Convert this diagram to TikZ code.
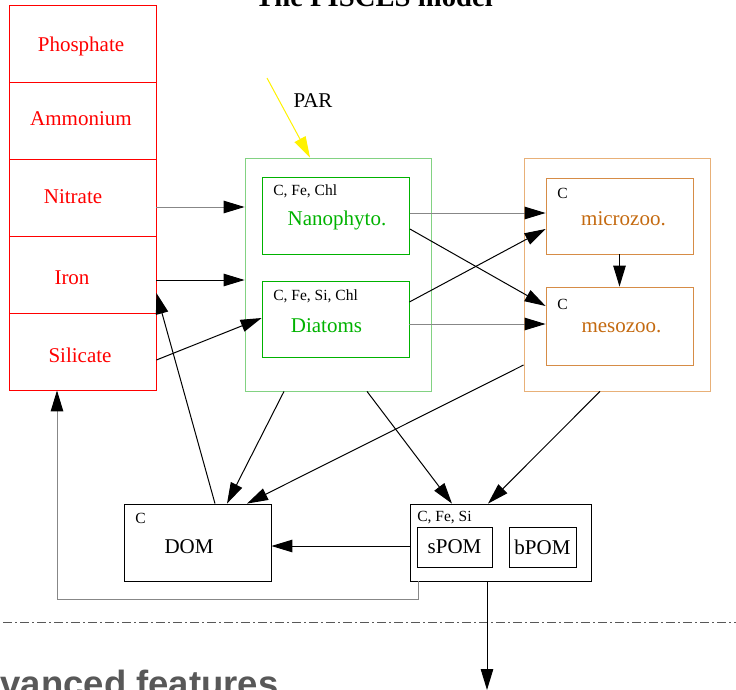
\documentclass[tikz,border=0pt]{standalone}
\usepackage{fontspec}
\setmainfont{Liberation Serif}
\newfontfamily\slidefont{Liberation Sans}
\usetikzlibrary{arrows.meta,positioning}
\definecolor{nutred}{RGB}{255,0,0}
\definecolor{phytogreen}{RGB}{0,178,0}
\definecolor{phytolight}{RGB}{130,210,130}
\definecolor{zooorange}{RGB}{196,106,16}
\definecolor{zoomid}{RGB}{214,140,70}
\definecolor{zoolight}{RGB}{232,176,120}
\definecolor{linegray}{RGB}{135,135,135}
\definecolor{slidegray}{RGB}{88,88,88}
\tikzset{>={Triangle[length=21pt,width=12.5pt]}}

\begin{document}
\begin{tikzpicture}[x=1pt,y=-1pt,line width=0.8pt,
    box/.style={draw,rectangle,inner sep=0pt},
    cell/.style={box,draw=nutred,minimum width=147pt,minimum height=77pt},
    phytobox/.style={box,draw=phytogreen,minimum width=147pt,minimum height=77pt},
    zoobox/.style={box,draw=zoomid,minimum width=147pt,minimum height=76pt},
    maintxt/.style={inner sep=0pt,anchor=base,font=\fontsize{21}{24}\selectfont},
    nuttxt/.style={maintxt,text=nutred},
    phytotxt/.style={maintxt,text=phytogreen},
    zootxt/.style={maintxt,text=zooorange},
    smalltxt/.style={inner sep=0pt,anchor=west,font=\fontsize{15.5}{18}\selectfont},
    arrow/.style={->,line width=1pt},
    grayline/.style={draw=linegray,line width=1pt,-{Triangle[length=21pt,width=12.5pt,color=black]}}]
    \useasboundingbox (0,0) rectangle (736,690);
    \clip (0,0) rectangle (736,690);

    \node[anchor=base,inner sep=0pt,font=\bfseries\fontsize{28.7}{32}\selectfont] (title) at (374,7) {The PISCES model};

    % nutrients
    \foreach \n/\t/\tx/\ty [count=\i] in {phosphate/Phosphate/81/52,ammonium/Ammonium/81/126,
        nitrate/Nitrate/73/203,iron/Iron/72/284,silicate/Silicate/80/362}
        {
        \node[cell] (\n) at (82.5,{43.5+77*(\i-1)}) {};
        \node[nuttxt] at (\tx,\ty) {\t};
        }

    % phytoplankton
    \node[box,draw=phytolight,minimum width=186pt,minimum height=233pt] (phyto) at (338,274.5) {};
    \node[phytobox] (nano) at (336,216) {};
    \node[phytobox,minimum height=76pt] (diatoms) at (335.5,319) {};
    \node[smalltxt] at (273,191) {C, Fe, Chl};
    \node[phytotxt] at (337,225) {Nanophyto.};
    \node[smalltxt] at (273,296) {C, Fe, Si, Chl};
    \node[phytotxt] at (326.5,332) {Diatoms};

    \coordinate (sun) at (267,78);
    \node[maintxt] (par) at (313,108) {PAR};
    \draw[->,yellow,line width=1pt] (sun) -- ([xshift=-28]phyto.north);

    % zooplankton
    \node[box,draw=zoolight,minimum width=186pt,minimum height=233pt] (zoo) at (617,274.5) {};
    \node[zoobox] (micro) at (619.5,216) {};
    \node[zoobox,minimum height=78pt] (meso) at (619.5,326) {};
    \node[smalltxt] at (557,193) {C};
    \node[zootxt] at (623.5,225) {microzoo.};
    \node[smalltxt] at (557,304) {C};
    \node[zootxt] at (621.5,332) {mesozoo.};

    % detritus
    \node[box,minimum width=147pt,minimum height=77pt] (dom) at (197.5,542.5) {};
    \node[smalltxt] at (135,518) {C};
    \node[maintxt] at (189,553) {DOM};
    \node[box,minimum width=181pt,minimum height=77pt] (pom) at (500.5,542.5) {};
    \node[smalltxt] at (417,518) {C, Fe, Si};
    \node[box,minimum width=75pt,minimum height=40pt,font=\fontsize{21}{24}\selectfont] (spom) at (454.5,547) {sPOM};
    \node[box,minimum width=67pt,minimum height=40pt,font=\fontsize{21}{24}\selectfont] (bpom) at (542.5,547) {bPOM};

    % fluxes
    \draw[grayline] ([yshift=-9.5]nitrate.east) -- ([yshift=-9.5]nitrate.east -| phyto.west);
    \draw[arrow] ([yshift=-5.5]iron.east) -- ([yshift=-5.5]iron.east -| phyto.west);
    \draw[arrow] ([yshift=-8.5]silicate.east) -- ([yshift=1]diatoms.west);
    \draw[arrow] ([xshift=17.5]dom.north) -- ([yshift=-18.5]iron.east);
    \draw[grayline] ([yshift=3]nano.east) -- ([yshift=3]micro.west);
    \draw[arrow] ([yshift=-13]nano.east) -- ([yshift=20]meso.west);
    \draw[arrow] ([yshift=17]diatoms.east) -- ([yshift=-13]micro.west);
    \draw[grayline] ([yshift=-5]diatoms.east) -- ([yshift=-5]diatoms.east -| meso.west);
    \draw[arrow] (micro.south) -- (meso.north);
    \draw[arrow] ([xshift=-54]phyto.south) -- ([xshift=29.5]dom.north);
    \draw[arrow] ([yshift=-90.5]zoo.west) -- ([xshift=49.5]dom.north);
    \draw[arrow] ([xshift=29]phyto.south) -- ([xshift=-48.5]pom.north);
    \draw[arrow] ([xshift=-17]zoo.south) -- ([xshift=-12.5]pom.north);
    \draw[arrow] ([yshift=-3.5]pom.west) -- ([yshift=-3.5]dom.east);
    \coordinate (remin) at (57,599);
    \draw[grayline] ([xshift=-82.5]pom.south) |- (remin) -- (remin |- silicate.south);

    % slide footer
    \draw[slidegray,line width=1pt,dash pattern=on 9pt off 3pt on 2pt off 3pt] (3,622) -- (736,622);
    \coordinate (export) at (487,690);
    \draw[arrow] ([xshift=-13.5]pom.south) -- (export);
    \node[anchor=base west,inner sep=0pt,text=slidegray,
        font=\slidefont\bfseries\fontsize{36.5}{40}\selectfont] (next) at (-48.5,696) {Advanced features};
\end{tikzpicture}
\end{document}
